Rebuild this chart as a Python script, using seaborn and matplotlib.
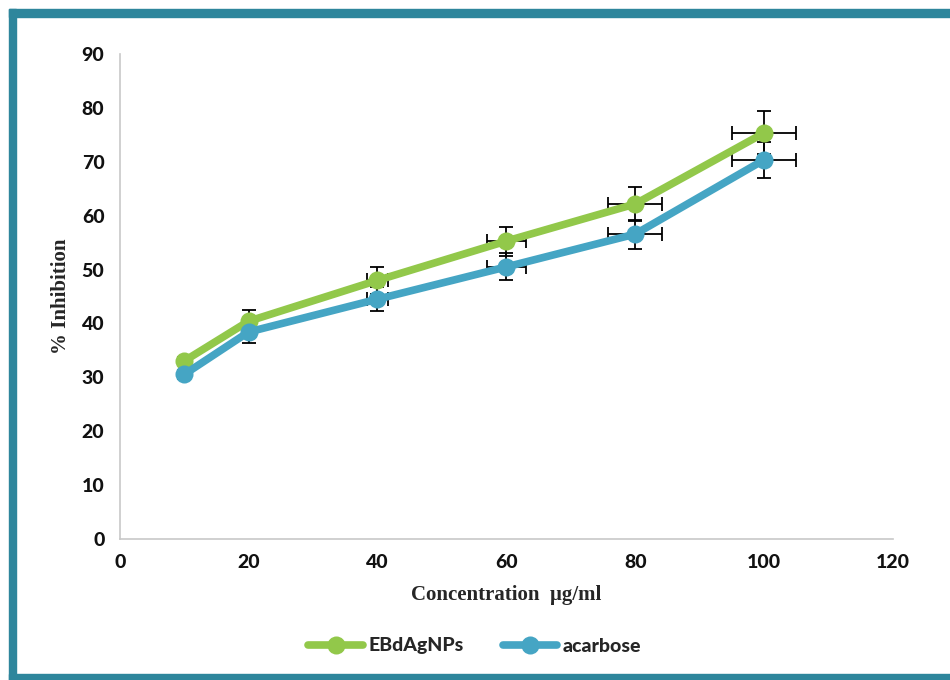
import matplotlib
matplotlib.use("Agg")
import matplotlib.pyplot as plt
import seaborn as sns
import pandas as pd
from matplotlib.patches import Rectangle

conc = [10, 20, 40, 60, 80, 100]
ebd = [33.0, 40.4, 48.0, 55.3, 62.2, 75.4]
acarbose = [30.5, 38.4, 44.5, 50.5, 56.6, 70.4]
ebd_yerr = [0.8, 2.0, 2.5, 2.7, 3.2, 4.0]
aca_yerr = [0.8, 2.0, 2.2, 2.5, 2.7, 3.4]
xerr = [0.0, 0.0, 1.7, 3.0, 4.2, 5.0]
series_names = ["EBdAgNPs", "acarbose"]
colors = ["#92C84A", "#45A5C4"]

sns.set_theme(style="white")
plt.rcParams['font.family'] = ['Lato', 'DejaVu Sans']

df = pd.DataFrame({
    "conc": conc * 2,
    "val": ebd + acarbose,
    "series": [series_names[0]] * len(conc) + [series_names[1]] * len(conc),
})

fig = plt.figure(figsize=(9.5, 6.8), dpi=100)
ax = fig.add_axes([0.126, 0.208, 0.814, 0.712])

for yv, ye in [(ebd, ebd_yerr), (acarbose, aca_yerr)]:
    ax.errorbar(conc, yv, yerr=ye, xerr=xerr, fmt="none", ecolor="black",
                elinewidth=1.3, capsize=5, capthick=1.3, zorder=1)

sns.lineplot(data=df, x="conc", y="val", hue="series", palette=colors,
             marker="o", markersize=13, linewidth=5.5, markeredgewidth=0,
             ax=ax, legend=True, zorder=3)

ax.set_xlim(0, 120)
ax.set_ylim(0, 90)
ax.set_xticks(range(0, 121, 20))
ax.set_yticks(range(0, 91, 10))
for lbl in ax.get_xticklabels() + ax.get_yticklabels():
    lbl.set_fontweight("black")
    lbl.set_fontsize(14)
    lbl.set_color("#111111")

for s in ["top", "right"]:
    ax.spines[s].set_visible(False)
for s in ["left", "bottom"]:
    ax.spines[s].set_color("#C8C8C8")
    ax.spines[s].set_linewidth(1.2)
ax.tick_params(axis="both", direction="inout", length=6, width=1,
               color="#C8C8C8", pad=8)

ax.set_xlabel("Concentration  μg/ml", family=["Liberation Serif", "DejaVu Serif"],
              fontweight="bold", fontsize=15, labelpad=10)
ax.set_ylabel("% Inhibition", family=["Liberation Serif", "DejaVu Serif"],
              fontweight="bold", fontsize=15, labelpad=8)

handles, labels = ax.get_legend_handles_labels()
ax.legend(handles, labels, loc="center", bbox_to_anchor=(0.5, 0.05),
          bbox_transform=fig.transFigure, ncol=2, frameon=False,
          prop={"weight": "black", "size": 14}, handlelength=2.8,
          columnspacing=2.0, handletextpad=0.3)

border = "#2E869C"
fig.patches.append(Rectangle((9/950, 1 - 17/680), 1, 8/680, transform=fig.transFigure,
                             color=border, zorder=10))
fig.patches.append(Rectangle((9/950, 0), 7/950, 1 - 9/680, transform=fig.transFigure,
                             color=border, zorder=10))
fig.patches.append(Rectangle((9/950, 0), 1, 6/680, transform=fig.transFigure,
                             color=border, zorder=10))

fig.savefig("out.png", dpi=100)
